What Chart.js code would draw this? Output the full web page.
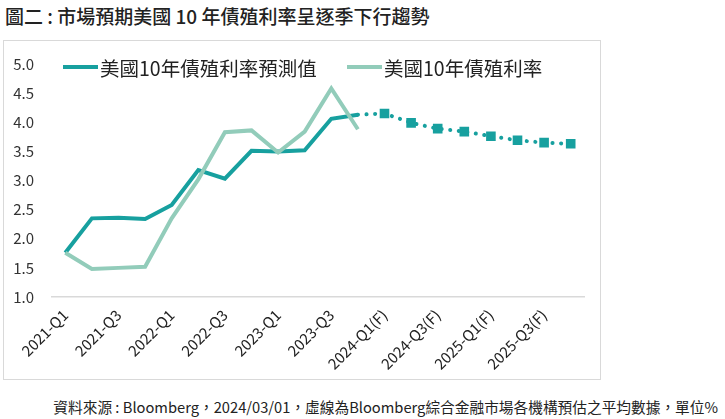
<!DOCTYPE html>
<html>
<head>
<meta charset="utf-8">
<script src="https://cdn.jsdelivr.net/npm/chart.js@4"></script>
<style>
  html, body { margin:0; padding:0; background:#fff; width:725px; height:419px; overflow:hidden; }
  body { font-family: "Noto Sans CJK TC", "Noto Sans", sans-serif; position:relative; }
  #title { position:absolute; left:5px; top:2px; font-size:19px; font-weight:500; color:#222; white-space:nowrap; }
  #box { position:absolute; left:3px; top:40px; width:596px; height:338px; border:1px solid #d9d9d9; }
  #wrap { position:absolute; left:0; top:-4px; width:596px; height:342px; }
  #footer { position:absolute; right:7px; top:396px; font-size:14.7px; color:#222; white-space:nowrap; }
  .lg { position:absolute; top:53px; height:28px; display:flex; align-items:center; font-size:19.5px; color:#222; white-space:nowrap; }
  .lg i { display:inline-block; width:35px; height:4px; margin-right:2px; }
</style>
</head>
<body>
<div id="title">圖二 : 市場預期美國 10 年債殖利率呈逐季下行趨勢</div>
<div id="box"><div id="wrap"><canvas id="c"></canvas></div></div>
<div class="lg" id="lg1" style="left:63px;"><i id="sw1"></i><span id="t1"></span></div>
<div class="lg" id="lg2" style="left:347px;"><i id="sw2"></i><span id="t2"></span></div>
<div id="footer">資料來源 : Bloomberg，2024/03/01，虛線為Bloomberg綜合金融市場各機構預估之平均數據，單位%</div>
<script>
const categories = ["2021-Q1","2021-Q2","2021-Q3","2021-Q4","2022-Q1","2022-Q2","2022-Q3","2022-Q4",
  "2023-Q1","2023-Q2","2023-Q3","2023-Q4","2024-Q1(F)","2024-Q2(F)","2024-Q3(F)","2024-Q4(F)",
  "2025-Q1(F)","2025-Q2(F)","2025-Q3(F)","2025-Q4(F)"];
const forecastSolid = [1.76,2.35,2.36,2.34,2.58,3.18,3.03,3.51,3.50,3.52,4.06,4.13,
  null,null,null,null,null,null,null,null];
const forecastDotted = [null,null,null,null,null,null,null,null,null,null,null,4.13,
  4.15,3.99,3.89,3.84,3.76,3.69,3.65,3.63];
const actual = [1.76,1.48,1.50,1.52,2.35,3.02,3.83,3.86,3.48,3.84,4.58,3.88,
  null,null,null,null,null,null,null,null];
const yTicks = [1.0,1.5,2.0,2.5,3.0,3.5,4.0,4.5,5.0];
const seriesNames = ["美國10年債殖利率預測值","美國10年債殖利率"];

const teal = "#17A09F";
const light = "#92CCBA";

document.getElementById("t1").textContent = seriesNames[0];
document.getElementById("t2").textContent = seriesNames[1];
document.getElementById("sw1").style.background = teal;
document.getElementById("sw2").style.background = light;

new Chart(document.getElementById("c"), {
  type: "line",
  data: {
    labels: categories,
    datasets: [
      { label: seriesNames[0], data: forecastSolid, borderColor: teal, backgroundColor: teal,
        borderWidth: 4, pointRadius: 0, tension: 0, spanGaps: false, order: 2 },
      { label: seriesNames[1], data: actual, borderColor: light, backgroundColor: light,
        borderWidth: 4, pointRadius: 0, tension: 0, order: 1 },
      { label: "dotted", data: forecastDotted, borderColor: teal, backgroundColor: teal,
        borderWidth: 4, borderDash: [0.1, 8.5], borderCapStyle: "round",
        pointStyle: "rect", pointRadius: function(ctx){ return ctx.dataIndex >= 12 ? 6.8 : 0; },
        pointBorderWidth: 0, tension: 0, order: 3 }
    ]
  },
  options: {
    responsive: true,
    maintainAspectRatio: false,
    animation: false,
    layout: { padding: { top: 4, right: 16, left: 0, bottom: 0 } },
    plugins: {
      tooltip: { enabled: false },
      legend: { display: false }
    },
    scales: {
      x: {
        offset: true,
        afterFit: function(scale){ scale.height = 82; },
        grid: { display: false, drawTicks: false },
        border: { display: true, color: "#d9d9d9", width: 1.5 },
        ticks: {
          autoSkip: false, maxRotation: 45, minRotation: 45, padding: 9,
          color: "#222", font: { family: "Noto Sans CJK TC", size: 15 },
          callback: function(v, i){ return (i % 2 === 0 && i < 19) ? categories[i] : ""; }
        }
      },
      y: {
        min: 1.0, max: 5.0,
        afterFit: function(scale){ scale.width = 48; },
        afterBuildTicks: function(scale){ scale.ticks = yTicks.map(function(v){ return { value: v }; }); },
        grid: { display: false, drawTicks: false },
        border: { display: false },
        ticks: {
          padding: 18, color: "#333",
          font: { family: "Noto Sans CJK TC", size: 15 },
          callback: function(v){ return Number(v).toFixed(1); }
        }
      }
    }
  }
});
</script>
</body>
</html>
